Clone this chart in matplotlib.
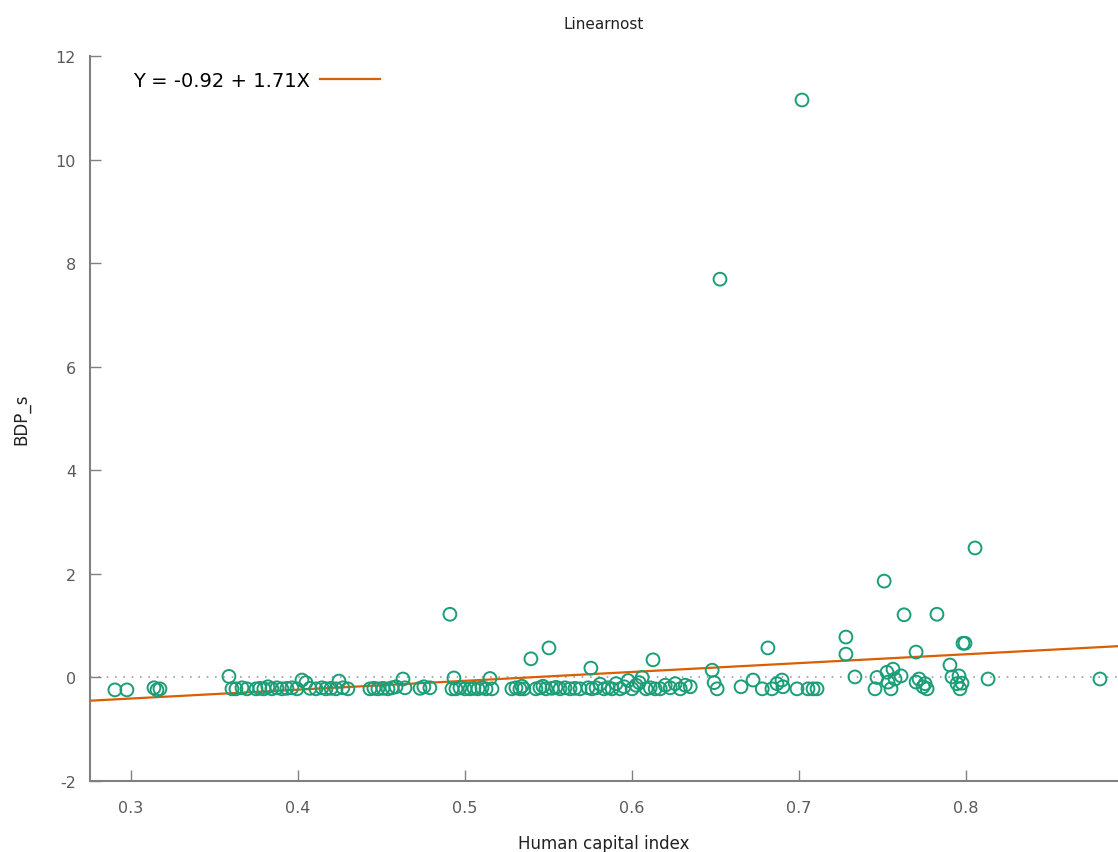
import matplotlib
matplotlib.use("Agg")
import matplotlib.pyplot as plt
import numpy as np

# Human capital index (x) and BDP_s (y)
hci = [
    0.2904, 0.2976, 0.3138, 0.3156, 0.3174,
    0.3587, 0.3605, 0.3629, 0.3665, 0.3695, 0.3749, 0.3772, 0.3796, 0.3820, 0.3844,
    0.3874, 0.3904, 0.3934, 0.3964, 0.3994, 0.4024, 0.4048, 0.4072, 0.4108, 0.4144,
    0.4168, 0.4198, 0.4228, 0.4246, 0.4269, 0.4299,
    0.4431, 0.4455, 0.4479, 0.4509, 0.4539, 0.4563, 0.4587, 0.4629, 0.4641, 0.4731,
    0.4754, 0.4790,
    0.4910, 0.4922, 0.4934, 0.4946, 0.4970, 0.5000, 0.5030, 0.5054, 0.5078, 0.5102,
    0.5126, 0.5150, 0.5162,
    0.5281, 0.5305, 0.5329, 0.5341, 0.5353, 0.5395, 0.5425, 0.5449, 0.5467, 0.5485,
    0.5503, 0.5521, 0.5545, 0.5569, 0.5599, 0.5629, 0.5659, 0.5689,
    0.5737, 0.5754, 0.5761, 0.5785, 0.5809, 0.5833, 0.5857, 0.5881, 0.5905, 0.5929,
    0.5953, 0.5977, 0.6001, 0.6025, 0.6043, 0.6061, 0.6085, 0.6109, 0.6126, 0.6139,
    0.6169, 0.6199, 0.6229, 0.6259, 0.6289, 0.6319, 0.6349,
    0.6480, 0.6492, 0.6510, 0.6527,
    0.6653, 0.6725, 0.6780, 0.6814, 0.6838, 0.6868, 0.6898, 0.6904, 0.6988, 0.7018,
    0.7054, 0.7084, 0.7108,
    0.7281, 0.7281, 0.7335, 0.7455, 0.7467, 0.7510, 0.7527, 0.7533, 0.7551, 0.7563,
    0.7575, 0.7611, 0.7629, 0.7701, 0.7701, 0.7719, 0.7743, 0.7755, 0.7767, 0.7826,
    0.7904, 0.7916, 0.7946, 0.7958, 0.7964, 0.7976, 0.7982, 0.7994, 0.8054, 0.8132,
    0.8802,
]
bdp = [
    -0.24, -0.24, -0.20, -0.24, -0.22,
    0.02, -0.22, -0.22, -0.20, -0.22, -0.22, -0.21, -0.22, -0.18, -0.22,
    -0.20, -0.22, -0.21, -0.20, -0.22, -0.05, -0.10, -0.21, -0.22, -0.20,
    -0.22, -0.21, -0.22, -0.07, -0.20, -0.22,
    -0.22, -0.21, -0.22, -0.21, -0.22, -0.20, -0.18, -0.03, -0.20, -0.21,
    -0.18, -0.20,
    1.22, -0.22, -0.01, -0.22, -0.20, -0.22, -0.22, -0.21, -0.22, -0.20,
    -0.22, -0.02, -0.22,
    -0.22, -0.20, -0.22, -0.17, -0.22, 0.36, -0.22, -0.20, -0.17, -0.22,
    0.57, -0.21, -0.19, -0.22, -0.20, -0.22, -0.21, -0.22,
    -0.20, 0.18, -0.22, -0.20, -0.13, -0.22, -0.20, -0.22, -0.12, -0.22,
    -0.18, -0.06, -0.22, -0.15, -0.10, 0.00, -0.22, -0.20, 0.34, -0.22,
    -0.22, -0.15, -0.20, -0.12, -0.22, -0.15, -0.18,
    0.14, -0.10, -0.22, 7.69,
    -0.18, -0.05, -0.22, 0.57, -0.22, -0.12, -0.05, -0.18, -0.22, 11.15,
    -0.22, -0.22, -0.22,
    0.78, 0.45, 0.01, -0.22, 0.00, 1.86, 0.10, -0.09, -0.22, 0.16,
    -0.03, 0.03, 1.21, 0.49, -0.09, -0.03, -0.18, -0.12, -0.22, 1.22,
    0.24, 0.01, -0.12, 0.03, -0.22, -0.11, 0.66, 0.66, 2.50, -0.03,
    -0.03,
]
intercept = -0.92
slope = 1.71
x_range = [0.2755, 0.891]
x_ticks = [0.3, 0.4, 0.5, 0.6, 0.7, 0.8]
y_ticks = [-2, 0, 2, 4, 6, 8, 10, 12]

plt.rcParams['font.family'] = ['DejaVu Sans']
plt.rcParams['axes.unicode_minus'] = False
fig = plt.figure(figsize=(11.18, 8.53), dpi=100)
ax = fig.add_axes([0.0805, 0.0832, 0.9195, 0.85])

green = '#1b9e77'
orange = '#d95f02'
gray = '#808080'

ax.axhline(0, color='#a0a0a0', linestyle=(0, (1, 4)), linewidth=1.2, zorder=1)
ax.scatter(hci, bdp, s=85, facecolors='none', edgecolors=green, linewidths=1.4, zorder=3)
xl = np.array(x_range)
ax.plot(xl, intercept + slope * xl, color=orange, linewidth=1.6, zorder=2,
        label='Y = -0.92 + 1.71X')

ax.set_xlim(*x_range)
ax.set_ylim(-2, 12)
ax.set_xticks(x_ticks)
ax.set_xticklabels([f'{t:.1f}' for t in x_ticks])
ax.set_yticks(y_ticks)
ax.tick_params(axis='both', direction='in', length=8, width=1, color=gray,
               labelcolor='#5a5a5a', labelsize=11.5)
ax.tick_params(axis='x', pad=14)
ax.tick_params(axis='y', pad=10)
for s in ['top', 'right']:
    ax.spines[s].set_visible(False)
for s in ['left', 'bottom']:
    ax.spines[s].set_color(gray)
    ax.spines[s].set_linewidth(1.5)

ax.set_title('Linearnost', fontsize=11, pad=20, color='#222222')
ax.set_xlabel('Human capital index', fontsize=12, labelpad=13, color='#222222')
ax.set_ylabel('BDP_s', fontsize=12, labelpad=18, color='#222222')

leg = ax.legend(loc='upper left', frameon=False, markerfirst=False, handlelength=3.1,
                fontsize=14, bbox_to_anchor=(0.025, 1.003), handletextpad=0.5)

fig.savefig('out.png', dpi=100)
